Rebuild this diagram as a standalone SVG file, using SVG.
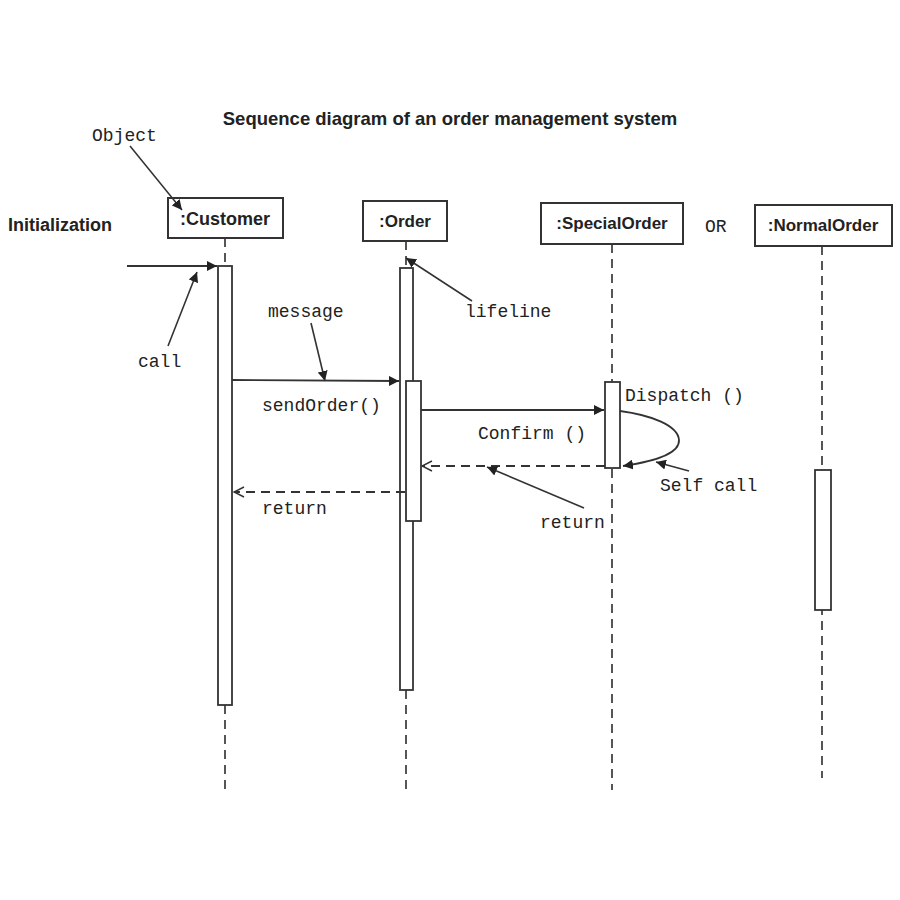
<svg xmlns="http://www.w3.org/2000/svg" width="900" height="900" viewBox="0 0 900 900">
<defs>
<marker id="fill" viewBox="0 0 10 10" refX="10" refY="5" markerWidth="10" markerHeight="10" markerUnits="userSpaceOnUse" orient="auto"><path d="M0,0 L10,5 L0,10 z" fill="#222"/></marker>
<marker id="open" viewBox="0 0 12 12" refX="11" refY="6" markerWidth="12" markerHeight="12" markerUnits="userSpaceOnUse" orient="auto"><path d="M1,1 L11,6 L1,11" fill="none" stroke="#333" stroke-width="1.5"/></marker>
<style>
.box{fill:#fff;stroke:#333;stroke-width:2}
.act{fill:#fff;stroke:#333;stroke-width:1.8}
.life{stroke:#444;stroke-width:1.8;stroke-dasharray:9,6;fill:none}
.msg{stroke:#333;stroke-width:1.8;fill:none}
.ret{stroke:#333;stroke-width:1.8;stroke-dasharray:9,6;fill:none}
.ann{stroke:#333;stroke-width:1.6;fill:none}
.h{font-family:"Liberation Sans",Arial,sans-serif;font-weight:bold;fill:#222}
.m{font-family:"Liberation Mono","Courier New",monospace;font-size:18px;fill:#222}
</style>
</defs>
<rect width="900" height="900" fill="#fff"/>
<text class="h" x="450" y="125" font-size="18.5" text-anchor="middle">Sequence diagram of an order management system</text>
<text class="h" x="8" y="231" font-size="18">Initialization</text>
<text class="m" x="92" y="141">Object</text>
<text class="m" x="705" y="232" font-size="14">OR</text>

<g id="lifelines">
<line class="life" x1="225" y1="238" x2="225" y2="266"/>
<line class="life" x1="225" y1="705" x2="225" y2="790"/>
<line class="life" x1="406" y1="241" x2="406" y2="268"/>
<line class="life" x1="406" y1="690" x2="406" y2="790"/>
<line class="life" x1="612" y1="244" x2="612" y2="790"/>
<line class="life" x1="822" y1="246" x2="822" y2="778"/>
</g>

<g id="customer">
<rect class="box" x="168" y="198" width="115" height="40"/>
<text class="h" x="225" y="225" font-size="18" text-anchor="middle">:Customer</text>
<rect class="act" x="218" y="266" width="14" height="439"/>
</g>
<g id="order">
<rect class="box" x="363" y="201" width="84" height="40"/>
<text class="h" x="405" y="227" font-size="17" text-anchor="middle">:Order</text>
<rect class="act" x="400" y="268" width="13" height="422"/>
<rect class="act" x="406" y="381" width="15" height="140"/>
</g>
<g id="specialorder">
<rect class="box" x="541" y="203" width="142" height="41"/>
<text class="h" x="612" y="229" font-size="17" text-anchor="middle">:SpecialOrder</text>
<rect class="act" x="605" y="382" width="15" height="86"/>
</g>
<g id="normalorder">
<rect class="box" x="755" y="205" width="137" height="41"/>
<text class="h" x="823" y="231" font-size="17" text-anchor="middle">:NormalOrder</text>
<rect class="act" x="815" y="470" width="16" height="140"/>
</g>

<g id="connectors">
<line class="ann" x1="130" y1="146" x2="182" y2="210" marker-end="url(#fill)"/>
<line class="msg" x1="127" y1="266" x2="217" y2="266" marker-end="url(#fill)"/>
<line class="ann" x1="168" y1="346" x2="197" y2="272" marker-end="url(#fill)"/>
<line class="ann" x1="472" y1="301" x2="406" y2="258" marker-end="url(#fill)"/>
<line class="ann" x1="311" y1="323" x2="325" y2="381" marker-end="url(#fill)"/>
<line class="msg" x1="232" y1="380" x2="399" y2="381" marker-end="url(#fill)"/>
<line class="ret" x1="405" y1="492" x2="234" y2="492" marker-end="url(#open)"/>
<line class="msg" x1="421" y1="410" x2="604" y2="410" marker-end="url(#fill)"/>
<path class="msg" d="M620,411 C650,415 678,425 679,440 C680,455 650,462 623,466" marker-end="url(#fill)"/>
<line class="ret" x1="605" y1="466" x2="422" y2="466" marker-end="url(#open)"/>
<line class="ann" x1="584" y1="508" x2="487" y2="467" marker-end="url(#fill)"/>
<line class="ann" x1="689" y1="471" x2="656" y2="462" marker-end="url(#fill)"/>
</g>

<g id="labels">
<text class="m" x="138" y="367">call</text>
<text class="m" x="268" y="317">message</text>
<text class="m" x="465" y="317">lifeline</text>
<text class="m" x="262" y="411">sendOrder()</text>
<text class="m" x="262" y="514">return</text>
<text class="m" x="478" y="439">Confirm ()</text>
<text class="m" x="625" y="401">Dispatch ()</text>
<text class="m" x="660" y="491">Self call</text>
<text class="m" x="540" y="528">return</text>
</g>
</svg>
